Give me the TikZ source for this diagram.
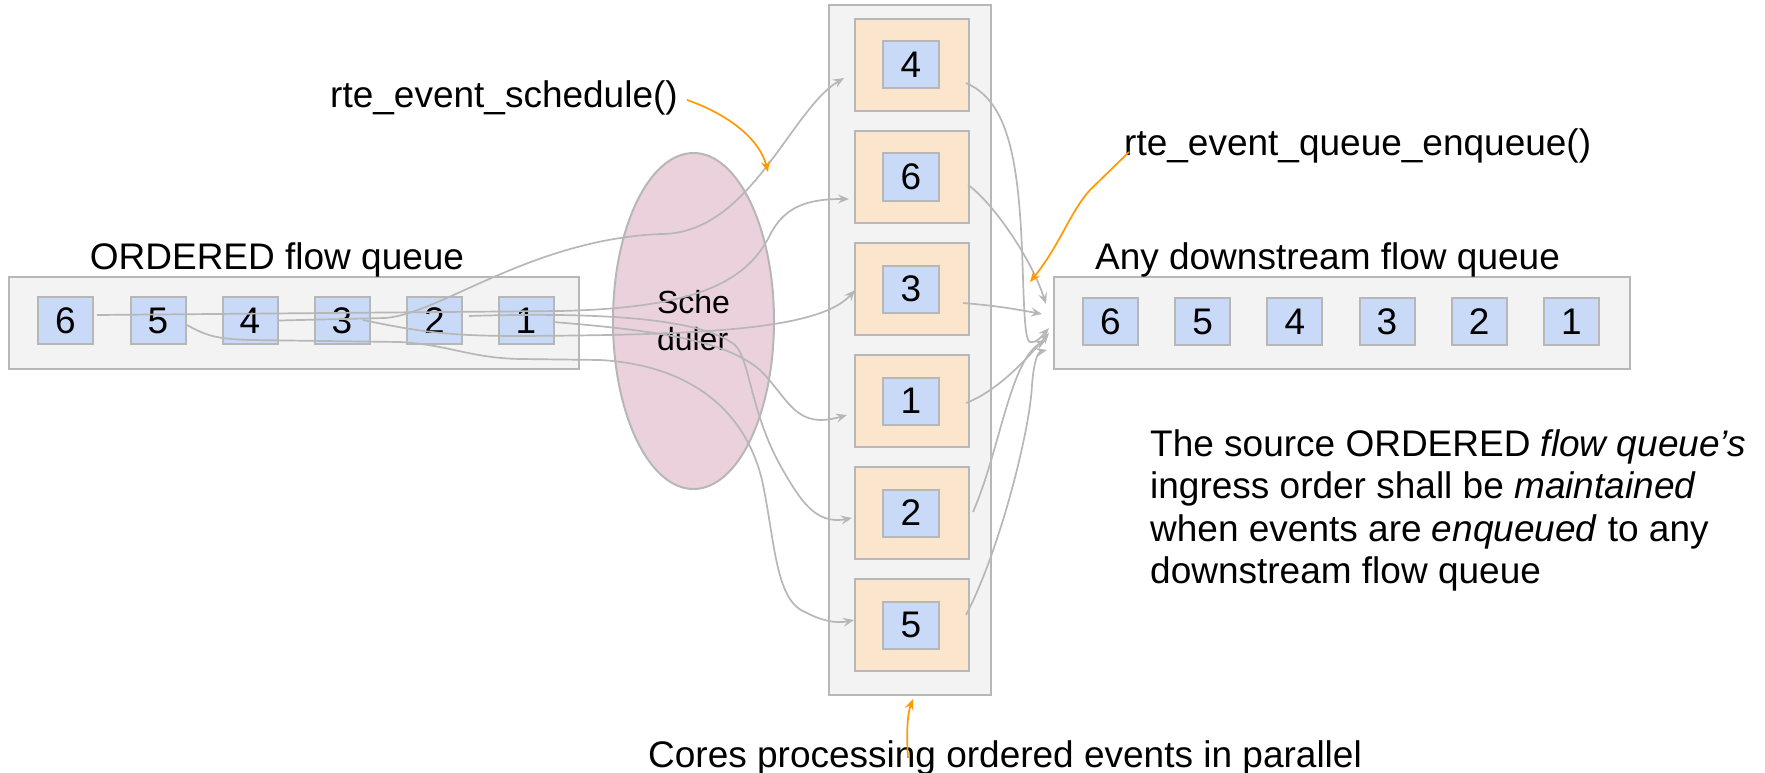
\documentclass[tikz,border=0pt]{standalone}
\usepackage{fontspec}
\setmainfont{Liberation Sans}
\usetikzlibrary{arrows.meta,shapes.geometric}
\definecolor{bggray}{HTML}{F3F3F3}
\definecolor{linegray}{HTML}{B7B7B7}
\definecolor{corefill}{HTML}{FCE5CD}
\definecolor{itemfill}{HTML}{C9DAF8}
\definecolor{schedfill}{HTML}{EAD1DC}
\definecolor{orangec}{HTML}{FF9900}
\begin{document}
\begin{tikzpicture}[x=1pt,y=-1pt,
  qbox/.style={draw=linegray, fill=bggray, line width=2pt, inner sep=0pt},
  corebox/.style={draw=linegray, fill=corefill, line width=2pt, minimum width=114pt, minimum height=92pt, inner sep=0pt},
  item/.style={draw=linegray, fill=itemfill, line width=2pt, minimum width=55pt, minimum height=47pt, inner sep=0pt, font=\fontsize{37}{40}\selectfont},
  conn/.style={draw=linegray, line width=1.7pt, -{Stealth[length=11pt,width=9pt,inset=4pt]}},
  oconn/.style={draw=orangec, line width=1.7pt, -{Stealth[length=11pt,width=9pt,inset=4pt]}},
  lbl/.style={font=\fontsize{37}{42}\selectfont, inner sep=0pt}]
\useasboundingbox (0,0) rectangle (1765,773);

% left queue
\node[qbox, minimum width=570pt, minimum height=92pt] (lq) at (294,323) {};
\node[lbl, anchor=base] (lql) at (277,269) {ORDERED flow queue};
\foreach \n/\x in {6/65.5,5/158,4/250,3/342,2/434.5,1/526}
  \node[item] (q\n) at (\x,320.5) {\n};

% scheduler
\node[ellipse, draw=linegray, fill=schedfill, line width=2pt, minimum width=161pt, minimum height=336pt, inner sep=0pt, align=left, font=\fontsize{32}{37}\selectfont] (sched) at (693.5,321) {Sche\\duler};

% cores column
\node[qbox, minimum width=162pt, minimum height=690pt] (mid) at (910,350) {};
\foreach \n/\y in {4/65,6/177,3/289,1/401,2/513,5/625}{
  \node[corebox] (c\n) at (912,\y) {};
  \node[item, minimum width=56pt] (c\n i) at (911,\y) {\n};
}

% right queue
\node[qbox, minimum width=576pt, minimum height=92pt] (rq) at (1342,323) {};
\node[lbl, anchor=base] (rql) at (1327.5,269) {Any downstream flow queue};
\foreach \n/\x in {6/1110.5,5/1202.7,4/1294.9,3/1387,2/1479.2,1/1571.5}
  \node[item] (r\n) at (\x,321.5) {\n};

% labels
\node[lbl, anchor=base west] (sl) at (330,108) {rte\_event\_schedule()};
\node[lbl, anchor=base west] (enq) at (1124,156) {rte\_event\_queue\_enqueue()};
\node[lbl, anchor=base west] (cores) at (648,767) {Cores processing ordered events in parallel};
\node[lbl, anchor=north west, align=left, font=\fontsize{37}{42.5}\selectfont] (para) at (1150,429)
  {The source ORDERED \textit{flow queue’s}\\ingress order shall be \textit{maintained}\\when events are \textit{enqueued} to any\\downstream flow queue};

\coordinate (schedpt) at (768,172);
\coordinate (enqpt) at (1030,282);

% left to cores
\draw[conn] ([shift={(3,-5.5)}]q6.east) -- (560,311) .. controls (690,308) and (745,285) .. (770,235) .. controls (785,205) and (810,199) .. ([shift={(-5,22)}]c6.west);
\draw[conn] ([shift={(0.5,0)}]q4.east) -- (385,318) .. controls (440,314) and (530,240) .. (660,234) .. controls (750,235) and (790,110) .. ([shift={(-10,13)}]c4.west);
\draw[conn] ([shift={(-7.5,-0.5)}]q3.east) .. controls (420,332) and (450,336) .. (520,336) .. controls (700,335) and (820,330) .. ([shift={(1,1)}]c3.west);
\draw[conn] ([shift={(6,-4.5)}]q2.east) .. controls (600,312) and (700,318) .. (735,345) .. controls (750,360) and (750,410) .. (780,465) .. controls (800,500) and (815,525) .. ([shift={(-2,5)}]c2.west);
\draw[conn] ([shift={(-1.5,1.5)}]q1.east) .. controls (680,332) and (730,345) .. (760,370) .. controls (790,400) and (795,430) .. ([shift={(-7,14)}]c1.west);
\draw[conn] ([shift={(0.5,4.5)}]q5.east) .. controls (205,335) and (215,339) .. (250,340) -- (400,342) .. controls (450,345) and (470,358) .. (520,359) -- (600,360) .. controls (690,365) and (745,410) .. (762,480) .. controls (775,540) and (775,600) .. (805,612) .. controls (820,620) and (835,624) .. ([shift={(0,-5)}]c5.west);

% cores to right queue
\draw[conn] ([shift={(-4,18)}]c4.east) .. controls (1005,100) and (1018,150) .. (1022,250) .. controls (1024,300) and (1024,340) .. (1030,342) .. controls (1036,344) and (1042,336) .. ([shift={(-4,5)}]rq.west);
\draw[conn] ([shift={(-2,8)}]c6.east) .. controls (990,200) and (1030,255) .. ([shift={(-7,-19)}]rq.west);
\draw[conn] ([shift={(-7,14)}]c3.east) .. controls (1000,306) and (1020,310) .. ([shift={(-11,-9)}]rq.west);
\draw[conn] ([shift={(-4,2)}]c1.east) .. controls (1000,390) and (1030,355) .. ([shift={(-4,10)}]rq.west);
\draw[conn] ([shift={(3,-1)}]c2.east) .. controls (1000,450) and (1010,360) .. ([shift={(-7,17)}]rq.west);
\draw[conn] ([shift={(-4,-10)}]c5.east) .. controls (1000,550) and (1030,430) .. (1032,385) .. controls (1034,360) and (1038,352) .. ([shift={(-6,27)}]rq.west);

% orange callouts
\draw[oconn] ([shift={(9,1.5)}]sl.east) .. controls (730,115) and (760,140) .. (schedpt);
\draw[oconn] ([shift={(5,-4)}]enq.base west) -- (1090,190) .. controls (1070,212) and (1060,245) .. (enqpt);
\draw[oconn] ([shift={(260,-9)}]cores.base west) .. controls (906,730) and (908,712) .. ([shift={(3,3)}]mid.south);
\end{tikzpicture}
\end{document}
